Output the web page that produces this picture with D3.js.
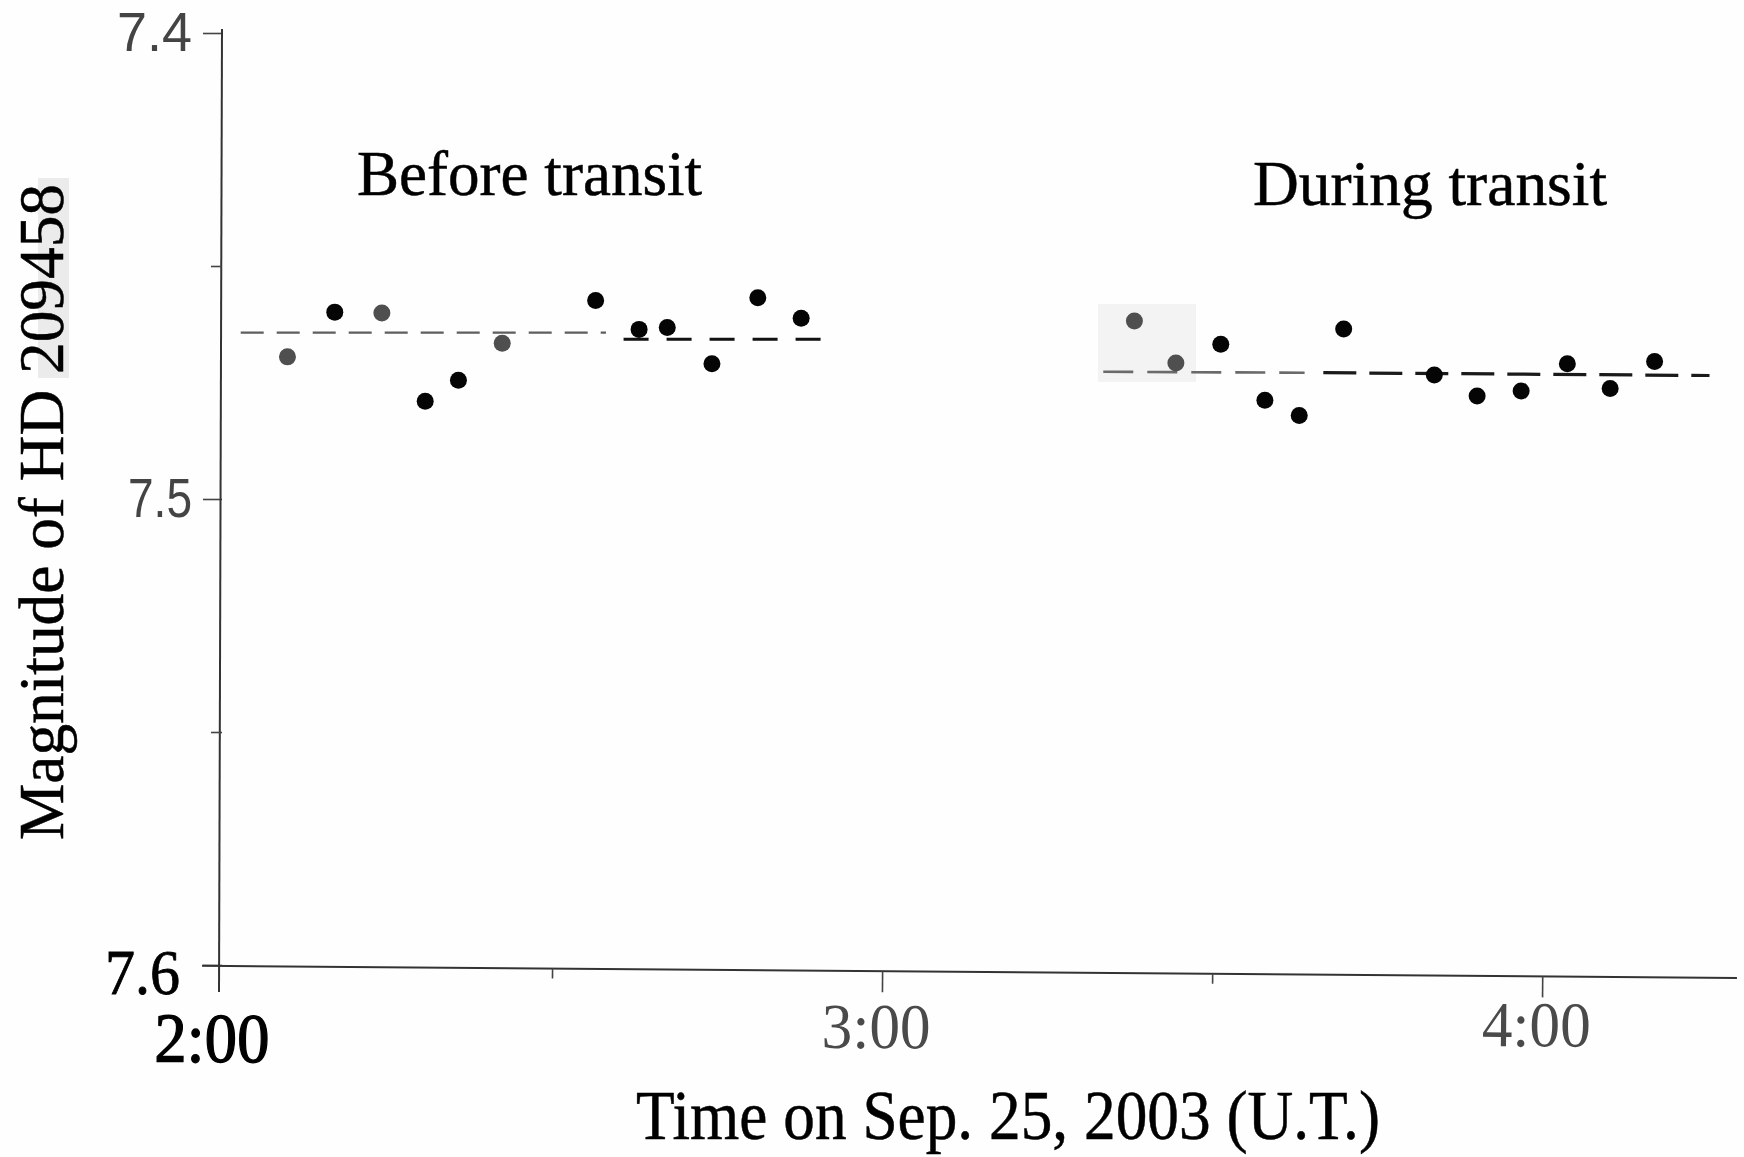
<!DOCTYPE html>
<html>
<head>
<meta charset="utf-8">
<script src="https://cdn.jsdelivr.net/npm/d3@7"></script>
<style>
  html, body { margin: 0; padding: 0; background: #fefefe; }
  svg { display: block; }
</style>
</head>
<body>
<svg id="chart" width="1744" height="1157"></svg>
<script>
// times are minutes after 0:00 UT on Sep. 25, 2003
const beforeTime = [125.95, 130.25, 134.53, 138.47, 141.49, 145.47, 153.96, 157.91, 160.47, 164.53, 168.70, 172.64];
const beforeMag = [7.4695, 7.4599, 7.4601, 7.4790, 7.4745, 7.4666, 7.4574, 7.4636, 7.4632, 7.4710, 7.4568, 7.4612];
const beforeFaint = [0, 2, 5];

const duringTime = [202.93, 206.70, 210.78, 214.79, 217.91, 221.95, 230.19, 234.08, 238.08, 242.28, 246.17, 250.21];
const duringMag = [7.4618, 7.4708, 7.4668, 7.4788, 7.4821, 7.4635, 7.4734, 7.4779, 7.4768, 7.4710, 7.4763, 7.4705];
const duringFaint = [0, 1];

// mean level (dashed) segments
const meanT0 = [121.7, 156.5, 200.1, 220.1];
const meanT1 = [154.9, 175.3, 218.4, 255.2];
const meanM0 = [7.4643, 7.4657, 7.4727, 7.4729];
const meanM1 = [7.4643, 7.4657, 7.4729, 7.4735];

const xMajor = [120, 180, 240];
const xMajorLabels = ["2:00", "3:00", "4:00"];
const xMinor = [150, 210];
const yMajor = [7.4, 7.5, 7.6];
const yMajorLabels = ["7.4", "7.5", "7.6"];
const yMinor = [7.45, 7.55];

const svg = d3.select("#chart");

// scale maps: 2:00 -> 222px, one minute = 11px
const x = d3.scaleLinear().domain([120, 257.7]).range([222, 1737]);
const y = d3.scaleLinear().domain([7.4, 7.6]).range([33, 965]);

const serif = "'Liberation Serif', 'Times New Roman', serif";
const sans = "'Liberation Sans', Arial, sans-serif";

// scan shading patches
svg.append("rect").attr("x", 38).attr("y", 178).attr("width", 31).attr("height", 200).attr("fill", "#ebebeb");
svg.append("rect").attr("x", 1098).attr("y", 304).attr("width", 98).attr("height", 78).attr("fill", "#f3f3f3");

// y axis
const yAxisG = svg.append("g").attr("transform", `translate(${x(120)},0)`);
yAxisG.call(d3.axisLeft(y).tickValues(yMajor).tickSize(19).tickPadding(10)
  .tickFormat((d, i) => yMajorLabels[i]));
yAxisG.select(".domain").remove();
yAxisG.append("line").attr("x1", 0).attr("x2", -3).attr("y1", y(7.4) - 4).attr("y2", 992)
  .attr("stroke", "#333").attr("stroke-width", 2);
yAxisG.selectAll(".tick line").attr("stroke", "#444").attr("stroke-width", 1.6);
yAxisG.selectAll(".tick text").each(function (d) {
  const t = d3.select(this);
  if (d === 7.6) {
    t.attr("font-family", serif).attr("font-size", 64).attr("fill", "#000")
      .attr("stroke", "#000").attr("stroke-width", 0.8)
      .attr("x", -42).attr("dy", "0.45em").attr("textLength", 75).attr("lengthAdjust", "spacingAndGlyphs");
  } else {
    t.attr("font-family", sans).attr("font-size", 56).attr("fill", "#444")
      .attr("x", -30).attr("textLength", d === 7.4 ? 75 : 64).attr("lengthAdjust", "spacingAndGlyphs");
  }
});
const yMinorG = svg.append("g").attr("transform", `translate(${x(120)},0)`);
yMinorG.call(d3.axisLeft(y).tickValues(yMinor).tickSize(11).tickFormat(""));
yMinorG.select(".domain").remove();
yMinorG.selectAll(".tick line").attr("stroke", "#444").attr("stroke-width", 1.6);

// x axis (scan is slightly tilted)
const xAxisG = svg.append("g").attr("transform", `translate(0,${y(7.6) + 1}) rotate(0.45, ${x(120)}, 0)`);
xAxisG.call(d3.axisBottom(x).tickValues(xMajor).tickSize(21).tickFormat((d, i) => xMajorLabels[i]));
xAxisG.select(".domain").attr("d", `M${x(120) - 20},0H${x(257.7)}`).attr("stroke", "#333").attr("stroke-width", 2);
xAxisG.selectAll(".tick line").attr("stroke", "#444").attr("stroke-width", 1.6);
xAxisG.selectAll(".tick").filter(d => d === 120).select("line").remove();
xAxisG.selectAll(".tick text").each(function (d) {
  const t = d3.select(this).attr("dy", 0).attr("lengthAdjust", "spacingAndGlyphs");
  if (d === 120) {
    t.attr("font-family", serif).attr("font-size", 70).attr("fill", "#000")
      .attr("stroke", "#000").attr("stroke-width", 1.3)
      .attr("x", -10).attr("y", 96).attr("textLength", 115);
  } else {
    t.attr("font-family", serif).attr("font-size", 64).attr("fill", "#4a4a4a")
      .attr("x", -6).attr("y", d === 180 ? 77 : 70).attr("textLength", 109);
  }
});
const xMinorG = svg.append("g").attr("transform", `translate(0,${y(7.6) + 1}) rotate(0.45, ${x(120)}, 0)`);
xMinorG.call(d3.axisBottom(x).tickValues(xMinor).tickSize(10).tickFormat(""));
xMinorG.select(".domain").remove();
xMinorG.selectAll(".tick line").attr("stroke", "#444").attr("stroke-width", 1.6);

// dashed mean levels
const segStroke = ["#5e5e5e", "#111", "#6a6a6a", "#1a1a1a"];
const segWidth = [2.2, 3, 2.6, 3.2];
const segDash = ["23,13", "25,18", "30,14", "33,13"];
meanT0.forEach((t0, i) => {
  svg.append("line")
    .attr("x1", x(t0)).attr("y1", y(meanM0[i]))
    .attr("x2", x(meanT1[i])).attr("y2", y(meanM1[i]))
    .attr("stroke", segStroke[i]).attr("stroke-width", segWidth[i])
    .attr("stroke-dasharray", segDash[i]);
});

// observations
function drawPoints(times, mags, faint) {
  svg.append("g").selectAll("circle")
    .data(times.map((t, i) => ({ t, m: mags[i], faint: faint.includes(i) })))
    .enter()
    .append("circle")
    .attr("cx", d => x(d.t))
    .attr("cy", d => y(d.m))
    .attr("r", 8.5)
    .attr("fill", d => d.faint ? "#4f4f4f" : "#050505");
}
drawPoints(beforeTime, beforeMag, beforeFaint);
drawPoints(duringTime, duringMag, duringFaint);

// annotations
svg.append("text").attr("x", 357).attr("y", 195)
  .attr("font-family", serif).attr("font-size", 63).attr("fill", "#000")
  .attr("stroke", "#000").attr("stroke-width", 0.5)
  .attr("textLength", 345).attr("lengthAdjust", "spacingAndGlyphs")
  .text("Before transit");
svg.append("text").attr("x", 1253).attr("y", 205)
  .attr("font-family", serif).attr("font-size", 64).attr("fill", "#000")
  .attr("stroke", "#000").attr("stroke-width", 0.5)
  .attr("textLength", 354).attr("lengthAdjust", "spacingAndGlyphs")
  .text("During transit");

// axis titles
svg.append("text").attr("x", 636).attr("y", 1139)
  .attr("font-family", serif).attr("font-size", 70).attr("fill", "#000")
  .attr("stroke", "#000").attr("stroke-width", 0.5)
  .attr("textLength", 744).attr("lengthAdjust", "spacingAndGlyphs")
  .text("Time on Sep. 25, 2003 (U.T.)");
svg.append("text")
  .attr("transform", "translate(63,512) rotate(-90)")
  .attr("text-anchor", "middle")
  .attr("font-family", serif).attr("font-size", 63).attr("fill", "#000")
  .attr("stroke", "#000").attr("stroke-width", 0.5)
  .attr("textLength", 656).attr("lengthAdjust", "spacingAndGlyphs")
  .text("Magnitude of HD 209458");
</script>
</body>
</html>
